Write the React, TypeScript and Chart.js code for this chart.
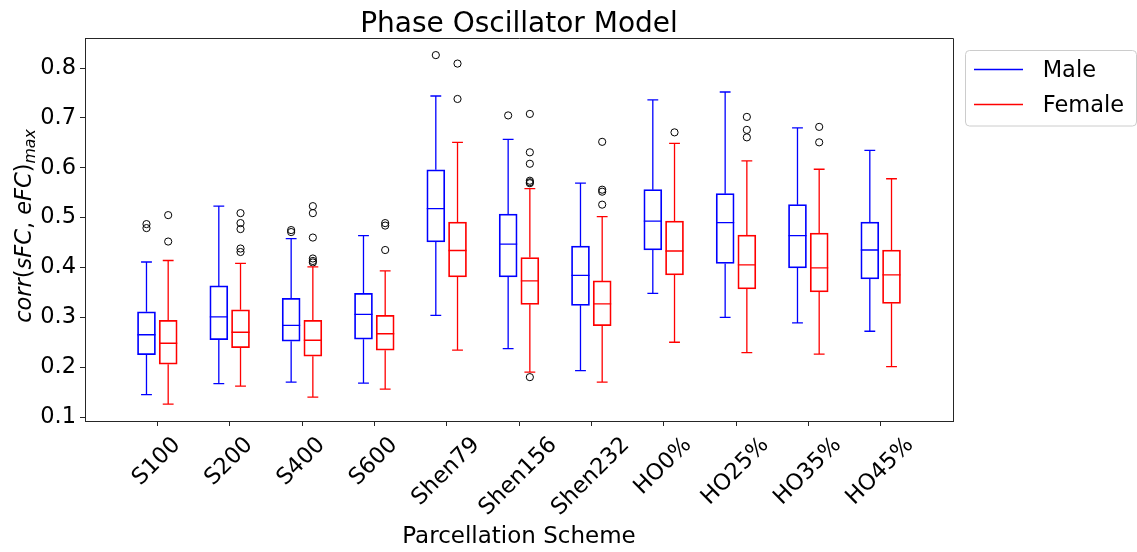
import React, { useEffect, useRef } from "react";
import { Chart, registerables } from "chart.js";

Chart.register(...registerables);

const categories = ["S100", "S200", "S400", "S600", "Shen79", "Shen156", "Shen232", "HO0%", "HO25%", "HO35%", "HO45%"];
const yTicks = [0.1, 0.2, 0.3, 0.4, 0.5, 0.6, 0.7, 0.8];

// Male box statistics
const maleLow = [0.145, 0.167, 0.170, 0.168, 0.304, 0.237, 0.193, 0.348, 0.300, 0.289, 0.272];
const maleQ1 = [0.225, 0.255, 0.252, 0.256, 0.451, 0.381, 0.324, 0.435, 0.408, 0.399, 0.377];
const maleMedian = [0.265, 0.301, 0.284, 0.306, 0.518, 0.447, 0.384, 0.493, 0.490, 0.464, 0.435];
const maleQ3 = [0.311, 0.363, 0.338, 0.348, 0.596, 0.507, 0.443, 0.556, 0.548, 0.526, 0.491];
const maleHigh = [0.411, 0.523, 0.458, 0.464, 0.744, 0.657, 0.569, 0.736, 0.752, 0.680, 0.635];
const maleOutliers: number[][] = [
  [0.487, 0.479], [], [0.475, 0.471], [], [0.826], [0.705], [], [], [], [], [],
];

// Female box statistics
const femaleLow = [0.126, 0.162, 0.140, 0.156, 0.234, 0.190, 0.170, 0.250, 0.229, 0.226, 0.201];
const femaleQ1 = [0.206, 0.239, 0.222, 0.234, 0.381, 0.326, 0.283, 0.385, 0.357, 0.351, 0.328];
const femaleMedian = [0.248, 0.270, 0.254, 0.267, 0.434, 0.373, 0.327, 0.433, 0.405, 0.399, 0.385];
const femaleQ3 = [0.294, 0.315, 0.294, 0.304, 0.491, 0.420, 0.373, 0.493, 0.465, 0.469, 0.435];
const femaleHigh = [0.414, 0.408, 0.401, 0.393, 0.651, 0.558, 0.502, 0.649, 0.614, 0.597, 0.578];
const femaleOutliers: number[][] = [
  [0.505, 0.452],
  [0.509, 0.489, 0.477, 0.438, 0.431],
  [0.523, 0.509, 0.460, 0.418, 0.413, 0.410],
  [0.489, 0.484, 0.435],
  [0.809, 0.738],
  [0.708, 0.631, 0.608, 0.574, 0.571, 0.569, 0.180],
  [0.652, 0.556, 0.552, 0.526],
  [0.671],
  [0.702, 0.676, 0.661],
  [0.682, 0.651],
  [],
];

const BLUE = "#0000ff";
const RED = "#ff0000";
const OFFSET = 0.15;
const CAP = 0.075;
const FONT = '"DejaVu Sans", "Liberation Sans", sans-serif';

const groups = [
  { label: "Male", color: BLUE, dx: -OFFSET, low: maleLow, q1: maleQ1, med: maleMedian, q3: maleQ3, high: maleHigh },
  { label: "Female", color: RED, dx: OFFSET, low: femaleLow, q1: femaleQ1, med: femaleMedian, q3: femaleQ3, high: femaleHigh },
];

const boxPlugin = {
  id: "boxExtras",
  afterDatasetsDraw(chart: any) {
    const ctx = chart.ctx;
    const xs = chart.scales.x;
    const ys = chart.scales.y;
    ctx.save();
    ctx.lineWidth = 1.3;
    groups.forEach((g) => {
      ctx.strokeStyle = g.color;
      categories.forEach((_, i) => {
        const cx = i + g.dx;
        const px = xs.getPixelForValue(cx);
        const pl = xs.getPixelForValue(cx - 0.125);
        const pr = xs.getPixelForValue(cx + 0.125);
        const cl = xs.getPixelForValue(cx - CAP);
        const cr = xs.getPixelForValue(cx + CAP);
        ctx.beginPath();
        // whiskers
        ctx.moveTo(px, ys.getPixelForValue(g.q1[i]));
        ctx.lineTo(px, ys.getPixelForValue(g.low[i]));
        ctx.moveTo(px, ys.getPixelForValue(g.q3[i]));
        ctx.lineTo(px, ys.getPixelForValue(g.high[i]));
        // caps
        ctx.moveTo(cl, ys.getPixelForValue(g.low[i]));
        ctx.lineTo(cr, ys.getPixelForValue(g.low[i]));
        ctx.moveTo(cl, ys.getPixelForValue(g.high[i]));
        ctx.lineTo(cr, ys.getPixelForValue(g.high[i]));
        // median
        ctx.moveTo(pl, ys.getPixelForValue(g.med[i]));
        ctx.lineTo(pr, ys.getPixelForValue(g.med[i]));
        ctx.stroke();
      });
    });
    ctx.restore();
  },
  afterDraw(chart: any) {
    const ctx = chart.ctx;
    const a = chart.chartArea;
    const xs = chart.scales.x;
    ctx.save();
    // frame (top/right spines)
    ctx.strokeStyle = "#262626";
    ctx.lineWidth = 1;
    ctx.beginPath();
    ctx.moveTo(Math.round(a.left) + 0.5, Math.round(a.top) + 0.5);
    ctx.lineTo(Math.round(a.right) + 0.5, Math.round(a.top) + 0.5);
    ctx.lineTo(Math.round(a.right) + 0.5, Math.round(a.bottom) + 0.5);
    ctx.stroke();

    ctx.fillStyle = "#000";
    // title
    ctx.font = `28px ${FONT}`;
    ctx.textAlign = "center";
    ctx.textBaseline = "alphabetic";
    ctx.fillText("Phase Oscillator Model", (a.left + a.right) / 2, 31.7);

    // x axis title
    ctx.font = `23px ${FONT}`;
    ctx.fillText("Parcellation Scheme", (a.left + a.right) / 2, 542.7);

    // rotated x tick labels
    const fs = 22.5;
    ctx.font = `${fs}px ${FONT}`;
    categories.forEach((lab, i) => {
      const w = ctx.measureText(lab).width;
      const x = xs.getPixelForValue(i) - 2.3;
      const cy = a.bottom + 13 + (w + 0.729 * fs) * 0.3536;
      ctx.save();
      ctx.translate(x, cy);
      ctx.rotate(-Math.PI / 4);
      ctx.textAlign = "center";
      ctx.textBaseline = "alphabetic";
      ctx.fillText(lab, 0, 0.365 * fs);
      ctx.restore();
    });

    // y axis title: corr(sFC, eFC)_max
    const parts: [string, string][] = [
      ["corr", `italic ${fs}px ${FONT}`],
      ["(", `${fs}px ${FONT}`],
      ["sFC", `italic ${fs}px ${FONT}`],
      [", ", `${fs}px ${FONT}`],
      ["eFC", `italic ${fs}px ${FONT}`],
      [")", `${fs}px ${FONT}`],
    ];
    const subFont = `italic ${fs * 0.7}px ${FONT}`;
    let total = 0;
    const widths = parts.map(([t, f]) => {
      ctx.font = f;
      const w = ctx.measureText(t).width;
      total += w;
      return w;
    });
    ctx.font = subFont;
    const subW = ctx.measureText("max").width;
    total += subW;
    ctx.save();
    ctx.translate(31, 226);
    ctx.rotate(-Math.PI / 2);
    ctx.textAlign = "left";
    ctx.textBaseline = "alphabetic";
    let pos = -total / 2;
    parts.forEach(([t, f], k) => {
      ctx.font = f;
      ctx.fillText(t, pos, 0);
      pos += widths[k];
    });
    ctx.font = subFont;
    ctx.fillText("max", pos, 4);
    ctx.restore();

    // legend
    const lx = 965.5, ly = 50.5, lw = 171, lh = 75.5;
    ctx.beginPath();
    if (ctx.roundRect) ctx.roundRect(lx, ly, lw, lh, 4);
    else ctx.rect(lx, ly, lw, lh);
    ctx.fillStyle = "rgba(255,255,255,0.8)";
    ctx.fill();
    ctx.strokeStyle = "#cccccc";
    ctx.lineWidth = 1;
    ctx.stroke();
    const rows = [
      { label: "Male", color: BLUE, y: 69.5 },
      { label: "Female", color: RED, y: 104.5 },
    ];
    ctx.font = `${fs}px ${FONT}`;
    ctx.textAlign = "left";
    rows.forEach((r) => {
      ctx.strokeStyle = r.color;
      ctx.lineWidth = 1.5;
      ctx.beginPath();
      ctx.moveTo(974, r.y);
      ctx.lineTo(1023, r.y);
      ctx.stroke();
      ctx.fillStyle = "#000";
      ctx.fillText(r.label, 1042.7, r.y + 7.8);
    });
    ctx.restore();
  },
};

export default function App() {
  const ref = useRef<HTMLCanvasElement | null>(null);
  useEffect(() => {
    if (!ref.current) return;
    const boxDatasets = groups.map((g) => ({
      type: "bar" as const,
      label: g.label,
      data: categories.map((_, i) => ({ x: i + g.dx, y: [g.q1[i], g.q3[i]] })),
      backgroundColor: "rgba(0,0,0,0)",
      borderColor: g.color,
      borderWidth: 1.1,
      borderSkipped: false,
      barThickness: 18,
      grouped: false,
      order: 2,
    }));
    const outlierDatasets = [
      { label: "Male outliers", dx: -OFFSET, arr: maleOutliers },
      { label: "Female outliers", dx: OFFSET, arr: femaleOutliers },
    ].map((o) => ({
      type: "scatter" as const,
      label: o.label,
      data: o.arr.flatMap((vals, i) => vals.map((v) => ({ x: i + o.dx, y: v }))),
      pointRadius: 3.6,
      pointBorderWidth: 1,
      pointBorderColor: "#000",
      pointBackgroundColor: "rgba(0,0,0,0)",
      showLine: false,
      order: 1,
    }));
    const chart = new Chart(ref.current, {
      type: "bar",
      data: { datasets: [...boxDatasets, ...outlierDatasets] as any },
      options: {
        animation: false,
        responsive: false,
        devicePixelRatio: 1,
        layout: { padding: { left: 0, top: 38, right: 184, bottom: 0 } },
        plugins: { legend: { display: false }, tooltip: { enabled: false }, title: { display: false } },
        scales: {
          x: {
            type: "linear",
            min: -1,
            max: 11,
            offset: false,
            afterBuildTicks: (s: any) => {
              s.ticks = categories.map((_, i) => ({ value: i }));
            },
            afterFit: (s: any) => {
              s.height = 131;
            },
            ticks: { display: false },
            grid: { display: true, offset: false, drawOnChartArea: false, drawTicks: true, tickLength: 5, color: "#262626", lineWidth: 1 },
            border: { display: true, color: "#262626", width: 1 },
          },
          y: {
            type: "linear",
            min: 0.092,
            max: 0.8603,
            afterBuildTicks: (s: any) => {
              s.ticks = yTicks.map((v) => ({ value: v }));
            },
            afterFit: (s: any) => {
              s.width = 85;
            },
            ticks: {
              color: "#000",
              padding: 4,
              font: { family: FONT, size: 22.5 },
              callback: (v: any) => Number(v).toFixed(1),
            },
            grid: { display: true, drawOnChartArea: false, drawTicks: true, tickLength: 5, color: "#262626", lineWidth: 1 },
            border: { display: true, color: "#262626", width: 1 },
          },
        },
      } as any,
      plugins: [boxPlugin],
    });
    return () => chart.destroy();
  }, []);
  return (
    <div style={{ position: "fixed", left: 0, top: 0, width: 1137, height: 552, background: "#fff" }}>
      <canvas ref={ref} width={1137} height={552} style={{ display: "block", width: 1137, height: 552 }} />
    </div>
  );
}
